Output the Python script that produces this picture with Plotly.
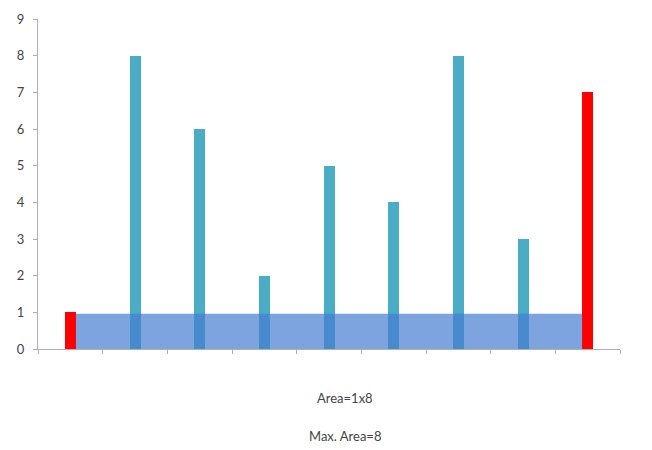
import plotly.graph_objects as go

categories = [1, 2, 3, 4, 5, 6, 7, 8, 9]
heights = [1, 8, 6, 2, 5, 4, 8, 3, 7]
left_idx = 0
right_idx = 8
area_label = "Area=1x8"
max_label = "Max. Area=8"
y_ticks = [0, 1, 2, 3, 4, 5, 6, 7, 8, 9]

TEAL = "#4BACC6"
RED = "#FF0000"
bar_w = 0.17

colors = [RED if i in (left_idx, right_idx) else TEAL for i in range(len(heights))]
xs = list(range(len(categories)))

fig = go.Figure()
fig.add_trace(go.Bar(x=xs, y=heights, marker=dict(color=colors, line=dict(width=0)),
                     width=bar_w, hoverinfo="skip"))

water = min(heights[left_idx], heights[right_idx])
fig.add_shape(type="rect", xref="x", yref="y",
              x0=left_idx + bar_w / 2, x1=right_idx - bar_w / 2, y0=0, y1=water * 0.96,
              fillcolor="rgba(70,125,210,0.7)", line=dict(width=0), layer="above")

fig.update_layout(
    width=652, height=450,
    margin=dict(l=30, r=40, t=11, b=109),
    plot_bgcolor="white", paper_bgcolor="white",
    showlegend=False,
    font=dict(family="Lato, Open Sans, sans-serif", size=12, color="#444"),
    xaxis=dict(range=[-0.5, len(categories) - 0.5], showgrid=False, zeroline=False,
               showline=True, linecolor="#b0b0b0", linewidth=1, automargin=False,
               tickmode="array", tickvals=[i - 0.5 for i in range(len(categories) + 1)],
               ticktext=[""] * (len(categories) + 1),
               ticks="outside", ticklen=4, tickcolor="#b0b0b0"),
    yaxis=dict(range=[0, 9], showgrid=False, zeroline=False, showline=True,
               linecolor="#b0b0b0", linewidth=1, tickvals=y_ticks, automargin=False,
               ticks="outside", ticklen=4, tickcolor="#b0b0b0",
               ticklabelstandoff=6,
               tickfont=dict(size=13, color="#444")),
    bargap=0,
)

fig.add_annotation(xref="paper", yref="paper", x=0.527, y=-0.178, text=area_label,
                   showarrow=False, font=dict(size=13, color="#444"))
fig.add_annotation(xref="paper", yref="paper", x=0.527, y=-0.294, text=max_label,
                   showarrow=False, font=dict(size=13, color="#444"))

fig.write_html("out.html")
